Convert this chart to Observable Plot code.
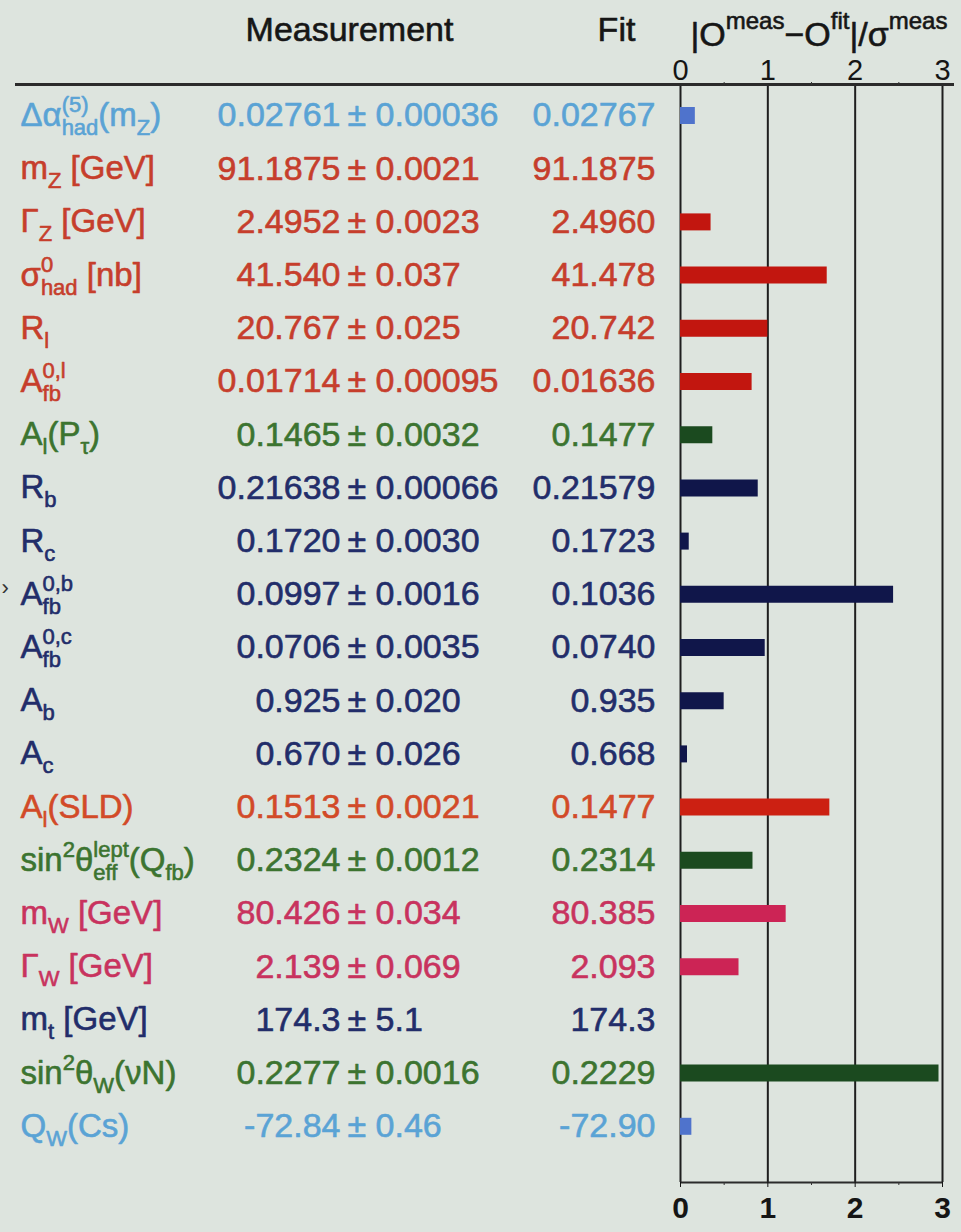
<!DOCTYPE html>
<html>
<head>
<meta charset="utf-8">
<script src="https://cdn.jsdelivr.net/npm/d3@7"></script>
<script src="https://cdn.jsdelivr.net/npm/@observablehq/plot@0.6"></script>
<style>
  html, body { margin: 0; padding: 0; background: #dde4de; }
  svg text { white-space: pre; }
</style>
</head>
<body>
<script>
// ---------- data ----------
const names = [
  "Δα_{had}^{(5)}(m_Z)",
  "m_Z [GeV]",
  "Γ_Z [GeV]",
  "σ^0_{had} [nb]",
  "R_l",
  "A^{0,l}_{fb}",
  "A_l(P_τ)",
  "R_b",
  "R_c",
  "A^{0,b}_{fb}",
  "A^{0,c}_{fb}",
  "A_b",
  "A_c",
  "A_l(SLD)",
  "sin^2θ^{lept}_{eff}(Q_{fb})",
  "m_W [GeV]",
  "Γ_W [GeV]",
  "m_t [GeV]",
  "sin^2θ_W(νN)",
  "Q_W(Cs)"
];
const measured = ["0.02761","91.1875","2.4952","41.540","20.767","0.01714","0.1465","0.21638","0.1720","0.0997","0.0706","0.925","0.670","0.1513","0.2324","80.426","2.139","174.3","0.2277","-72.84"];
const errors   = ["0.00036","0.0021","0.0023","0.037","0.025","0.00095","0.0032","0.00066","0.0030","0.0016","0.0035","0.020","0.026","0.0021","0.0012","0.034","0.069","5.1","0.0016","0.46"];
const fits     = ["0.02767","91.1875","2.4960","41.478","20.742","0.01636","0.1477","0.21579","0.1723","0.1036","0.0740","0.935","0.668","0.1477","0.2314","80.385","2.093","174.3","0.2229","-72.90"];
const pulls    = [0.17, 0.00, 0.35, 1.68, 1.00, 0.82, 0.37, 0.89, 0.10, 2.44, 0.97, 0.50, 0.08, 1.71, 0.83, 1.21, 0.67, 0.00, 2.96, 0.13];
const groups   = ["alpha","zline","zline","zline","zline","zline","green","heavy","heavy","heavy","heavy","heavy","heavy","sld","green","w","w","heavy","green","alpha"];
const markers  = ["","","","","","","","","","›","","","","","","","","","",""];
const xTicks = [0, 1, 2, 3];
const xMinorTicks = [0.5, 1.5, 2.5];
const headers = {measurement: "Measurement", fit: "Fit", pull: "|O^{meas}−O^{fit}|/σ^{meas}"};

// ---------- styles ----------
const textColor = {alpha: "#5aa3d5", zline: "#c63e2c", green: "#3c7430", heavy: "#222d6a", sld: "#d24a28", w: "#c8335e"};
const barColor  = {alpha: "#4f73cc", zline: "#c2160f", green: "#1b4a1f", heavy: "#10164a", sld: "#cc2012", w: "#cc2455"};
const FONT = '"Liberation Sans", Arial, Helvetica, sans-serif';

const rows = names.map((name, i) => ({
  i, name, meas: measured[i], err: "± " + errors[i], fit: fits[i],
  pull: pulls[i], group: groups[i], marker: markers[i]
}));

// layout (pixels)
const W = 961, H = 1232;
const mL = 680, mR = 19, mT = 84, mB = 50;
const rowTop = 115, rowStep = 53.2;
const yMin = (mT - rowTop) / rowStep;
const yMax = (H - mB - rowTop) / rowStep;
const txt = {fontSize: 34, strokeWidth: 0.6};

const chart = Plot.plot({
  width: W, height: H,
  marginLeft: mL, marginRight: mR, marginTop: mT, marginBottom: mB,
  style: {background: "#dde4de", fontFamily: FONT},
  x: {domain: [0, 3], axis: null},
  y: {domain: [yMin, yMax], reverse: true, axis: null},
  marks: [
    // frame grid
    Plot.ruleX(xTicks, {stroke: "#1e1e1e", strokeWidth: 2}),
    Plot.ruleY([yMin], {stroke: "#2b2b2b", strokeWidth: 3, insetLeft: -(mL - 15), insetRight: -12}),
    Plot.ruleY([yMax], {stroke: "#2b2b2b", strokeWidth: 2}),
    // axes
    Plot.axisX(xTicks, {anchor: "top", tickSize: 0, tickPadding: 5, fontSize: 29, color: "#151515", label: null}),
    Plot.axisX(xMinorTicks, {anchor: "top", tickSize: 3, tickFormat: () => "", color: "#333", label: null}),
    Plot.axisX(xTicks, {anchor: "bottom", tickSize: 5, tickPadding: 9, fontSize: 30, fontWeight: "bold", color: "#151515", label: null}),
    Plot.axisX(xMinorTicks, {anchor: "bottom", tickSize: 3, tickFormat: () => "", color: "#333", label: null}),
    // bars
    Plot.ruleY(rows, {y: "i", x1: 0, x2: "pull", stroke: d => barColor[d.group], strokeWidth: 17}),
    // text columns
    Plot.text(rows, {y: "i", frameAnchor: "left", text: "name", textAnchor: "start", dx: 20 - mL,
      fill: d => textColor[d.group], stroke: d => textColor[d.group], strokeWidth: 0.6, fontSize: 33}),
    Plot.text(rows, {y: "i", frameAnchor: "left", text: "meas", textAnchor: "end", dx: 340 - mL,
      fill: d => textColor[d.group], stroke: d => textColor[d.group], ...txt}),
    Plot.text(rows, {y: "i", frameAnchor: "left", text: "err", textAnchor: "start", dx: 347 - mL,
      fill: d => textColor[d.group], stroke: d => textColor[d.group], ...txt}),
    Plot.text(rows, {y: "i", frameAnchor: "left", text: "fit", textAnchor: "end", dx: 655 - mL,
      fill: d => textColor[d.group], stroke: d => textColor[d.group], ...txt}),
    Plot.text(rows.filter(d => d.marker), {y: "i", frameAnchor: "left", text: "marker", textAnchor: "start", dx: 1 - mL, dy: -6,
      fill: "#333", fontSize: 22}),
    // headers
    Plot.text([headers.measurement], {frameAnchor: "top-left", lineAnchor: "middle", text: d => d, textAnchor: "middle", dx: 349 - mL, dy: -54,
      fill: "#161616", stroke: "#161616", ...txt}),
    Plot.text([headers.fit], {frameAnchor: "top-left", lineAnchor: "middle", text: d => d, textAnchor: "middle", dx: 616 - mL, dy: -54,
      fill: "#161616", stroke: "#161616", ...txt}),
    Plot.text([headers.pull], {frameAnchor: "top-left", lineAnchor: "middle", text: d => d, textAnchor: "start", dx: 10, dy: -49,
      fill: "#161616", stroke: "#161616", ...txt})
  ]
});
document.body.append(chart);

// ---------- rich text (sub/superscripts) ----------
const ctx = document.createElement("canvas").getContext("2d");
function measure(t, size) { ctx.font = `${size}px ${FONT}`; return ctx.measureText(t).width; }
function parse(s) {
  const segs = []; let i = 0, base = "";
  const readGroup = () => {
    if (s[i] === "{") { const j = s.indexOf("}", i); const g = s.slice(i + 1, j); i = j + 1; return g; }
    return s[i++];
  };
  while (i < s.length) {
    const c = s[i];
    if (c === "_" || c === "^") {
      if (base) { segs.push({k: "base", t: base}); base = ""; }
      i++;
      const g = readGroup();
      const kind = c === "_" ? "sub" : "sup";
      const nxt = s[i];
      if ((nxt === "_" || nxt === "^") && nxt !== c) {
        i++;
        const g2 = readGroup();
        segs.push({k: "stack", sub: kind === "sub" ? g : g2, sup: kind === "sup" ? g : g2});
      } else segs.push({k: kind, t: g});
    } else { base += c; i++; }
  }
  if (base) segs.push({k: "base", t: base});
  return segs;
}
function richify(el, cfg) {
  const segs = parse(el.textContent);
  el.textContent = "";
  let cur = 0;
  const add = (t, size, shift, dx) => {
    const ts = document.createElementNS("http://www.w3.org/2000/svg", "tspan");
    ts.textContent = t;
    if (size !== cfg.main) ts.setAttribute("font-size", size);
    const dy = shift - cur;
    if (dy) ts.setAttribute("dy", dy);
    if (dx) ts.setAttribute("dx", dx);
    cur = shift;
    el.append(ts);
  };
  for (const s of segs) {
    if (s.k === "base") add(s.t, cfg.main, 0);
    else if (s.k === "sub") add(s.t, cfg.script, cfg.sub);
    else if (s.k === "sup") add(s.t, cfg.script, cfg.sup);
    else {
      const wSup = measure(s.sup, cfg.script), wSub = measure(s.sub, cfg.script);
      if (wSup <= wSub) { add(s.sup, cfg.script, cfg.sup); add(s.sub, cfg.script, cfg.sub, -wSup); }
      else { add(s.sub, cfg.script, cfg.sub); add(s.sup, cfg.script, cfg.sup, -wSub); }
    }
  }
}
chart.querySelectorAll("text").forEach(el => {
  const s = el.textContent;
  if (!/[_^]/.test(s)) return;
  if (s.startsWith("|")) richify(el, {main: 34, script: 24, sub: 8, sup: -17});
  else richify(el, {main: 33, script: 22, sub: 9, sup: -14});
});
</script>
</body>
</html>
